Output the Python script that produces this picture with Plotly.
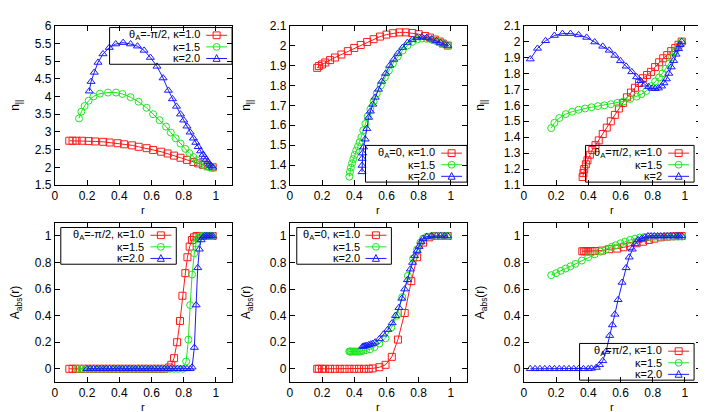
import plotly.graph_objects as go

W, H = 706, 412

# ---- data ----
kappa_labels = ["κ=1.0", "κ=1.5", "κ=2.0"]
theta_labels = ["θ<sub>A</sub>=-π/2", "θ<sub>A</sub>=0", "θ<sub>A</sub>=π/2"]

# n_parallel, theta_A = -pi/2
r1_k10 = [0.09, 0.11, 0.135, 0.17, 0.21, 0.25, 0.30, 0.34, 0.39, 0.43, 0.48, 0.52, 0.57, 0.61, 0.66, 0.70, 0.74, 0.78, 0.82, 0.86, 0.89, 0.92, 0.95, 0.98]
n1_k10 = [2.75, 2.75, 2.75, 2.75, 2.74, 2.73, 2.72, 2.70, 2.68, 2.65, 2.62, 2.58, 2.54, 2.49, 2.44, 2.39, 2.33, 2.27, 2.21, 2.15, 2.11, 2.07, 2.03, 2.0]
r1_k15 = [0.15, 0.165, 0.185, 0.21, 0.24, 0.28, 0.33, 0.38, 0.42, 0.47, 0.52, 0.57, 0.61, 0.65, 0.69, 0.72, 0.75, 0.78, 0.81, 0.835, 0.86, 0.88, 0.90, 0.92, 0.94, 0.96, 0.98]
n1_k15 = [3.38, 3.57, 3.73, 3.88, 4.0, 4.08, 4.11, 4.11, 4.07, 3.98, 3.85, 3.68, 3.5, 3.33, 3.15, 2.98, 2.82, 2.67, 2.52, 2.4, 2.29, 2.2, 2.13, 2.07, 2.03, 2.0, 1.98]
r1_k20 = [0.214, 0.225, 0.245, 0.268, 0.299, 0.338, 0.378, 0.424, 0.47, 0.513, 0.554, 0.593, 0.634, 0.672, 0.705, 0.73, 0.755, 0.78, 0.80, 0.82, 0.84, 0.86, 0.875, 0.89, 0.905, 0.92, 0.93, 0.94, 0.95, 0.96, 0.97, 0.98]
n1_k20 = [4.15, 4.42, 4.68, 4.96, 5.2, 5.38, 5.48, 5.52, 5.48, 5.42, 5.3, 5.1, 4.85, 4.52, 4.17, 3.93, 3.72, 3.5, 3.33, 3.16, 2.99, 2.82, 2.7, 2.58, 2.46, 2.36, 2.29, 2.22, 2.15, 2.09, 2.04, 2.0]

# n_parallel, theta_A = 0
r2_k10 = [0.17, 0.18, 0.20, 0.22, 0.25, 0.28, 0.32, 0.36, 0.40, 0.44, 0.48, 0.52, 0.56, 0.60, 0.64, 0.68, 0.72, 0.76, 0.80, 0.84, 0.87, 0.90, 0.93, 0.95, 0.98]
n2_k10 = [1.888, 1.897, 1.905, 1.915, 1.927, 1.94, 1.955, 1.972, 1.988, 2.003, 2.018, 2.032, 2.045, 2.055, 2.062, 2.066, 2.066, 2.063, 2.057, 2.048, 2.04, 2.03, 2.02, 2.01, 2.0]
r2_k15 = [0.369, 0.373, 0.379, 0.386, 0.394, 0.402, 0.412, 0.423, 0.433, 0.444, 0.456, 0.469, 0.483, 0.50, 0.52, 0.54, 0.565, 0.59, 0.615, 0.64, 0.67, 0.70, 0.73, 0.76, 0.79, 0.82, 0.85, 0.88, 0.91, 0.935, 0.96, 0.98]
n2_k15 = [1.342, 1.366, 1.387, 1.409, 1.43, 1.451, 1.473, 1.494, 1.515, 1.54, 1.575, 1.607, 1.645, 1.68, 1.72, 1.76, 1.80, 1.84, 1.875, 1.91, 1.945, 1.975, 2.0, 2.018, 2.03, 2.035, 2.034, 2.03, 2.022, 2.014, 2.007, 2.0]
r2_k20 = [0.448, 0.448, 0.449, 0.452, 0.458, 0.468, 0.478, 0.489, 0.50, 0.515, 0.53, 0.55, 0.57, 0.595, 0.62, 0.645, 0.67, 0.70, 0.73, 0.76, 0.79, 0.82, 0.85, 0.88, 0.91, 0.935, 0.96, 0.98]
n2_k20 = [1.366, 1.398, 1.433, 1.46, 1.49, 1.53, 1.583, 1.639, 1.67, 1.705, 1.74, 1.78, 1.82, 1.86, 1.90, 1.93, 1.96, 1.99, 2.015, 2.03, 2.04, 2.043, 2.04, 2.032, 2.024, 2.015, 2.007, 2.0]

# n_parallel, theta_A = pi/2
r3_k10 = [0.365, 0.37, 0.375, 0.385, 0.395, 0.41, 0.425, 0.445, 0.465, 0.49, 0.515, 0.54, 0.565, 0.59, 0.615, 0.64, 0.665, 0.69, 0.715, 0.74, 0.765, 0.79, 0.815, 0.84, 0.865, 0.89, 0.915, 0.94, 0.96, 0.98]
n3_k10 = [1.15, 1.175, 1.2, 1.23, 1.255, 1.29, 1.32, 1.35, 1.38, 1.42, 1.46, 1.5, 1.54, 1.58, 1.615, 1.65, 1.68, 1.71, 1.74, 1.77, 1.79, 1.81, 1.84, 1.87, 1.895, 1.915, 1.94, 1.96, 1.98, 2.0]
r3_k15 = [0.17, 0.19, 0.22, 0.26, 0.30, 0.34, 0.38, 0.42, 0.46, 0.50, 0.54, 0.58, 0.62, 0.66, 0.70, 0.73, 0.76, 0.79, 0.815, 0.84, 0.86, 0.88, 0.90, 0.92, 0.94, 0.96, 0.98]
n3_k15 = [1.457, 1.49, 1.52, 1.545, 1.56, 1.572, 1.58, 1.588, 1.595, 1.60, 1.607, 1.615, 1.625, 1.64, 1.655, 1.67, 1.69, 1.72, 1.75, 1.775, 1.8, 1.83, 1.86, 1.9, 1.94, 1.97, 2.0]
r3_k20 = [0.04, 0.085, 0.135, 0.19, 0.24, 0.29, 0.34, 0.39, 0.44, 0.49, 0.53, 0.565, 0.60, 0.635, 0.67, 0.70, 0.725, 0.75, 0.775, 0.795, 0.815, 0.835, 0.855, 0.87, 0.885, 0.90, 0.915, 0.93, 0.945, 0.96, 0.97, 0.98]
n3_k20 = [1.89, 1.957, 2.005, 2.038, 2.05, 2.05, 2.042, 2.026, 1.997, 1.97, 1.945, 1.913, 1.879, 1.845, 1.81, 1.778, 1.754, 1.732, 1.716, 1.706, 1.704, 1.708, 1.72, 1.74, 1.765, 1.80, 1.84, 1.88, 1.92, 1.955, 1.98, 2.0]

# A_abs, theta_A = -pi/2
r4_k10 = [0.09, 0.11, 0.13, 0.155, 0.18, 0.205, 0.23, 0.255, 0.28, 0.305, 0.33, 0.355, 0.38, 0.405, 0.43, 0.455, 0.48, 0.505, 0.53, 0.555, 0.58, 0.605, 0.63, 0.655, 0.68, 0.709, 0.723, 0.74, 0.759, 0.777, 0.792, 0.81, 0.823, 0.837, 0.851, 0.864, 0.88, 0.90, 0.92, 0.94, 0.96, 0.98]
a4_k10 = [0, 0, 0, 0, 0, 0, 0, 0, 0, 0, 0, 0, 0, 0, 0, 0, 0, 0, 0, 0, 0, 0, 0, 0, 0, 0.01, 0.03, 0.08, 0.2, 0.36, 0.55, 0.72, 0.84, 0.92, 0.97, 0.99, 1.0, 1.0, 1.0, 1.0, 1.0, 1.0]
r4_k15 = [0.14, 0.165, 0.19, 0.215, 0.24, 0.265, 0.29, 0.315, 0.34, 0.365, 0.39, 0.415, 0.44, 0.465, 0.49, 0.515, 0.54, 0.565, 0.59, 0.615, 0.64, 0.665, 0.69, 0.715, 0.74, 0.765, 0.795, 0.815, 0.829, 0.84, 0.852, 0.866, 0.877, 0.887, 0.897, 0.91, 0.925, 0.94, 0.955, 0.97, 0.98]
a4_k15 = [0, 0, 0, 0, 0, 0, 0, 0, 0, 0, 0, 0, 0, 0, 0, 0, 0, 0, 0, 0, 0, 0, 0, 0, 0, 0, 0, 0.055, 0.22, 0.48, 0.71, 0.87, 0.945, 0.98, 0.995, 1.0, 1.0, 1.0, 1.0, 1.0, 1.0]
r4_k20 = [0.2, 0.22, 0.24, 0.26, 0.28, 0.30, 0.32, 0.34, 0.36, 0.38, 0.40, 0.42, 0.44, 0.46, 0.48, 0.50, 0.52, 0.54, 0.56, 0.58, 0.60, 0.62, 0.64, 0.66, 0.68, 0.70, 0.72, 0.74, 0.76, 0.78, 0.80, 0.82, 0.84, 0.852, 0.866, 0.877, 0.887, 0.897, 0.908, 0.918, 0.93, 0.94, 0.95, 0.96, 0.97, 0.98]
a4_k20 = [0, 0, 0, 0, 0, 0, 0, 0, 0, 0, 0, 0, 0, 0, 0, 0, 0, 0, 0, 0, 0, 0, 0, 0, 0, 0, 0, 0, 0, 0, 0, 0, 0, 0.012, 0.16, 0.48, 0.76, 0.9, 0.97, 0.99, 1.0, 1.0, 1.0, 1.0, 1.0, 1.0]

# A_abs, theta_A = 0
r5_k10 = [0.17, 0.18, 0.20, 0.22, 0.25, 0.28, 0.31, 0.34, 0.37, 0.40, 0.43, 0.46, 0.49, 0.514, 0.556, 0.594, 0.633, 0.671, 0.713, 0.754, 0.79, 0.827, 0.865, 0.90, 0.94, 0.98]
a5_k10 = [0, 0, 0, 0, 0, 0, 0, 0, 0, 0, 0, 0, 0, 0.003, 0.012, 0.03, 0.09, 0.22, 0.42, 0.66, 0.84, 0.95, 0.99, 1.0, 1.0, 1.0]
r5_k15 = [0.369, 0.373, 0.379, 0.386, 0.394, 0.402, 0.412, 0.423, 0.433, 0.444, 0.456, 0.473, 0.498, 0.525, 0.556, 0.594, 0.63, 0.665, 0.698, 0.733, 0.765, 0.79, 0.81, 0.827, 0.85, 0.88, 0.91, 0.935, 0.96, 0.98]
a5_k15 = [0.13, 0.13, 0.13, 0.13, 0.13, 0.13, 0.13, 0.13, 0.13, 0.133, 0.136, 0.14, 0.147, 0.163, 0.19, 0.23, 0.31, 0.4, 0.54, 0.7, 0.83, 0.9, 0.95, 0.98, 0.995, 1.0, 1.0, 1.0, 1.0, 1.0]
r5_k20 = [0.452, 0.46, 0.468, 0.477, 0.49, 0.502, 0.514, 0.53, 0.556, 0.581, 0.608, 0.635, 0.656, 0.677, 0.695, 0.713, 0.73, 0.748, 0.762, 0.775, 0.79, 0.802, 0.815, 0.827, 0.85, 0.88, 0.91, 0.935, 0.96, 0.98]
a5_k20 = [0.168, 0.17, 0.172, 0.175, 0.18, 0.185, 0.19, 0.2, 0.225, 0.26, 0.295, 0.345, 0.4, 0.46, 0.53, 0.6, 0.67, 0.75, 0.8, 0.85, 0.89, 0.92, 0.955, 0.98, 0.995, 1.0, 1.0, 1.0, 1.0, 1.0]

# A_abs, theta_A = pi/2
r6_k10 = [0.363, 0.375, 0.388, 0.40, 0.413, 0.426, 0.44, 0.485, 0.53, 0.58, 0.62, 0.66, 0.70, 0.74, 0.776, 0.81, 0.85, 0.89, 0.93, 0.96, 0.98]
a6_k10 = [0.885, 0.885, 0.885, 0.885, 0.885, 0.886, 0.887, 0.89, 0.9, 0.905, 0.915, 0.925, 0.945, 0.957, 0.97, 0.98, 0.99, 0.995, 0.998, 1.0, 1.0]
r6_k15 = [0.17, 0.2, 0.23, 0.26, 0.29, 0.32, 0.36, 0.40, 0.44, 0.475, 0.51, 0.545, 0.57, 0.60, 0.63, 0.66, 0.69, 0.72, 0.75, 0.78, 0.81, 0.84, 0.87, 0.90, 0.93, 0.96, 0.98]
a6_k15 = [0.705, 0.72, 0.738, 0.755, 0.772, 0.79, 0.815, 0.84, 0.862, 0.882, 0.9, 0.918, 0.93, 0.945, 0.958, 0.97, 0.98, 0.988, 0.992, 0.994, 0.995, 0.995, 0.995, 0.995, 0.995, 0.995, 0.995]
r6_k20 = [0.04, 0.07, 0.10, 0.13, 0.16, 0.19, 0.22, 0.25, 0.28, 0.31, 0.34, 0.37, 0.40, 0.42, 0.45, 0.47, 0.49, 0.51, 0.533, 0.55, 0.565, 0.585, 0.61, 0.635, 0.654, 0.673, 0.69, 0.71, 0.73, 0.75, 0.77, 0.79, 0.81, 0.83, 0.85, 0.87, 0.89, 0.91, 0.93, 0.95, 0.965, 0.98]
a6_k20 = [0, 0, 0, 0, 0, 0, 0, 0, 0, 0, 0, 0, 0, 0.003, 0.01, 0.03, 0.06, 0.13, 0.25, 0.33, 0.41, 0.52, 0.65, 0.76, 0.84, 0.9, 0.94, 0.97, 0.98, 0.99, 1.0, 1.0, 1.0, 1.0, 1.0, 1.0, 1.0, 1.0, 1.0, 1.0, 1.0, 1.0]

COLORS = ["#ff1a1a", "#1ee61e", "#1a1aff"]
SYMBOLS = ["square-open", "circle-open", "triangle-up-open"]
FONT = "Liberation Sans, Arial, sans-serif"
FS = 12
KFS = 11

LEFTS = [44, 280, 515]
TOPS = [11, 215]
PW, PH = 178, 165


def px(x):
    return x / W


def py(y):
    return 1 - y / H


panels = [
    dict(series=[(r1_k10, n1_k10), (r1_k15, n1_k15), (r1_k20, n1_k20)], yr=[1.5, 6], dt=0.5,
         yt="n<sub>||</sub>", theta=0, kap3="κ=2.0", key=(99, 13, 222)),
    dict(series=[(r2_k10, n2_k10), (r2_k15, n2_k15), (r2_k20, n2_k20)], yr=[1.3, 2.1], dt=0.1,
         yt="n<sub>||</sub>", theta=1, kap3="κ=2.0", key=(356, 135, 458)),
    dict(series=[(r3_k10, n3_k10), (r3_k15, n3_k15), (r3_k20, n3_k20)], yr=[1.1, 2.1], dt=0.1,
         yt="n<sub>||</sub>", theta=2, kap3="κ=2", key=(577, 135, 686)),
    dict(series=[(r4_k10, a4_k10), (r4_k15, a4_k15), (r4_k20, a4_k20)], yr=[-0.1, 1.1], dt=0.2,
         yt="A<sub>abs</sub>(r)", theta=0, kap3="κ=2.0", key=(50, 220, 166)),
    dict(series=[(r5_k10, a5_k10), (r5_k15, a5_k15), (r5_k20, a5_k20)], yr=[-0.1, 1.1], dt=0.2,
         yt="A<sub>abs</sub>(r)", theta=1, kap3="κ=2.0", key=(287, 220, 382)),
    dict(series=[(r6_k10, a6_k10), (r6_k15, a6_k15), (r6_k20, a6_k20)], yr=[-0.1, 1.1], dt=0.2,
         yt="A<sub>abs</sub>(r)", theta=2, kap3="κ=2.0", key=(571, 340, 686)),
]

AX = dict(showline=True, linecolor="black", linewidth=1, mirror="ticks", ticks="inside",
          ticklen=5, tickwidth=1, tickcolor="black", showgrid=False, zeroline=False,
          tickfont=dict(family=FONT, size=FS, color="black"))

fig = go.Figure()
layout = {}
shapes = []
annotations = []

for i, p in enumerate(panels):
    k = "" if i == 0 else str(i + 1)
    col, row = i % 3, i // 3
    x0, y0 = LEFTS[col], TOPS[row]
    layout["xaxis" + k] = dict(domain=[px(x0), px(x0 + PW)], anchor="y" + k, range=[0, 1.1],
                               tick0=0, dtick=0.2, **AX)
    layout["yaxis" + k] = dict(domain=[py(y0 + PH), py(y0)], anchor="x" + k, range=p["yr"],
                               tick0=0, dtick=p["dt"],
                               title=dict(text=p["yt"], standoff=16, font=dict(family=FONT, size=FS)), **AX)
    # x-axis label "r" just under the tick labels
    annotations.append(dict(text="r", xref="paper", yref="paper", x=px(x0 + PW * 0.5), y=py(y0 + PH + 26),
                            xanchor="center", yanchor="middle", showarrow=False,
                            font=dict(family=FONT, size=11, color="black")))
    for j, (xs, ys) in enumerate(p["series"]):
        fig.add_trace(go.Scatter(
            x=xs, y=ys, mode="lines+markers", xaxis="x" + k, yaxis="y" + k, showlegend=False,
            line=dict(color=COLORS[j], width=1),
            marker=dict(symbol=SYMBOLS[j], size=7, color=COLORS[j], line=dict(width=1, color=COLORS[j])),
        ))

    # gnuplot-style key: text, then a line sample with the point symbol
    left, top, right = p["key"]
    shapes.append(dict(type="rect", xref="paper", yref="paper", x0=px(left), x1=px(right),
                       y0=py(top + 38), y1=py(top), line=dict(color="black", width=1),
                       fillcolor="rgba(0,0,0,0)", layer="above"))
    labels = [theta_labels[p["theta"]] + ", " + kappa_labels[0], kappa_labels[1], p["kap3"]]
    for j, lab in enumerate(labels):
        yy = top + 8 + 12 * j
        annotations.append(dict(text=lab, xref="paper", yref="paper", x=px(right - 30), y=py(yy),
                                xanchor="right", yanchor="middle", showarrow=False,
                                font=dict(family=FONT, size=KFS, color="black")))
        c = COLORS[j]
        shapes.append(dict(type="line", xref="paper", yref="paper", x0=px(right - 26), x1=px(right - 5),
                           y0=py(yy), y1=py(yy), line=dict(color=c, width=1), layer="above"))
        cx, s = right - 15.5, 3.5
        if j == 0:
            shapes.append(dict(type="rect", xref="paper", yref="paper", x0=px(cx - s), x1=px(cx + s),
                               y0=py(yy + s), y1=py(yy - s), line=dict(color=c, width=1), layer="above"))
        elif j == 1:
            shapes.append(dict(type="circle", xref="paper", yref="paper", x0=px(cx - s), x1=px(cx + s),
                               y0=py(yy + s), y1=py(yy - s), line=dict(color=c, width=1), layer="above"))
        else:
            path = "M {:.5f},{:.5f} L {:.5f},{:.5f} L {:.5f},{:.5f} Z".format(
                px(cx - s), py(yy + 3), px(cx + s), py(yy + 3), px(cx), py(yy - 4))
            shapes.append(dict(type="path", xref="paper", yref="paper", path=path,
                               line=dict(color=c, width=1), layer="above"))

fig.update_layout(
    width=W, height=H, autosize=False,
    margin=dict(l=0, r=0, t=0, b=0),
    paper_bgcolor="white", plot_bgcolor="white",
    font=dict(family=FONT, size=FS, color="black"),
    shapes=shapes, annotations=annotations,
    **layout,
)

fig.write_html("out.html")
